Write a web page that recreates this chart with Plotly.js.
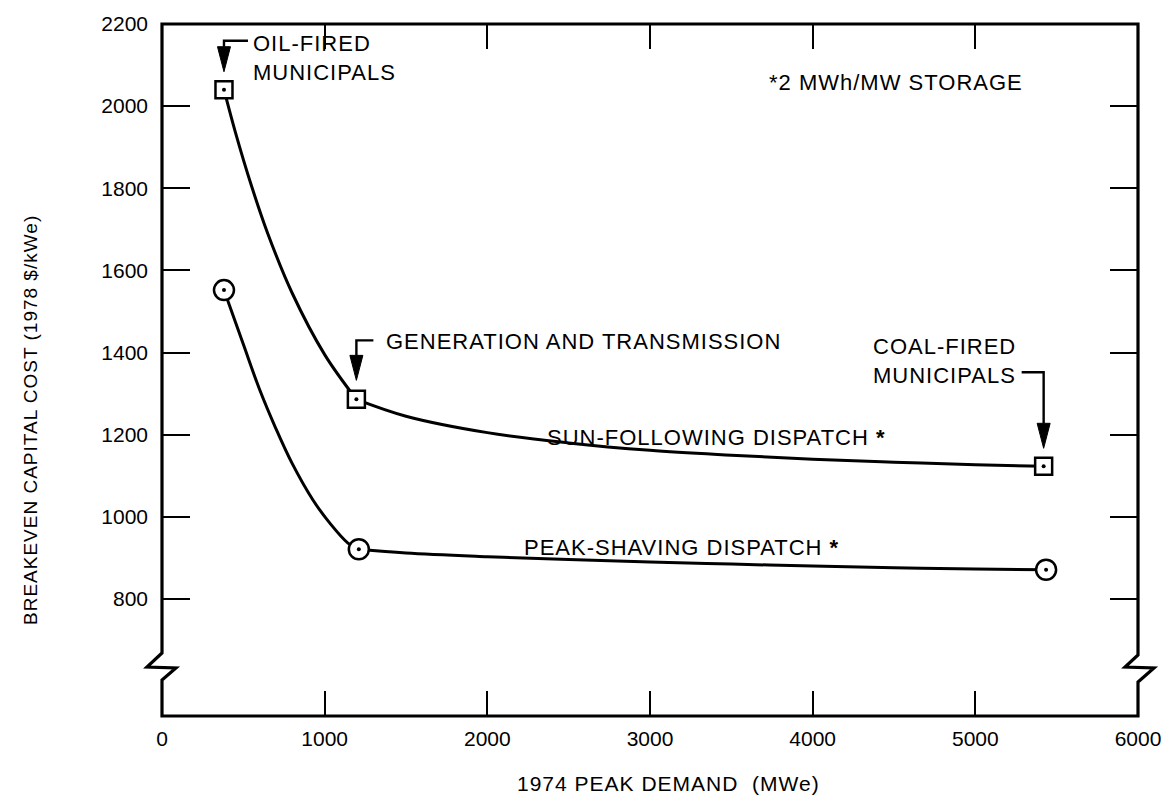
<!DOCTYPE html>
<html><head><meta charset="utf-8">
<script src="https://cdn.plot.ly/plotly-3.0.1.min.js"></script>
<style>
html,body{margin:0;padding:0;background:#fff}
.annotation-text{letter-spacing:1px}
</style>
</head><body><div id="chart" style="width:1170px;height:803px"></div>
<script>
// ---- data ----
const sunX = [381, 1195, 5420];
const sunY = [2040, 1286, 1123];
const peakX = [381, 1210, 5435];
const peakY = [1552, 921, 871];
// curve shapes
const sunCurveLeftX = [381, 450, 550, 650, 800, 1000, 1195];
const sunCurveLeftY = [2040, 1938, 1806, 1690, 1545, 1395, 1286];
const sunCurveRightX = [1195, 1500, 2000, 2500, 3000, 3500, 4000, 4500, 5000, 5420];
const sunCurveRightY = [1286, 1245, 1205, 1180, 1162, 1150, 1140, 1133, 1127, 1123];
const peakCurveLeftX = [381, 500, 600, 700, 800, 928, 1033, 1143, 1210];
const peakCurveLeftY = [1552, 1420, 1310, 1215, 1130, 1041, 984, 936, 921];
const peakCurveRightX = [1210, 1500, 2000, 2500, 3000, 3500, 4000, 4500, 5000, 5435];
const peakCurveRightY = [921, 912, 903, 896, 890, 885, 880, 876, 873, 871];
const xTickVals = [0, 1000, 2000, 3000, 4000, 5000, 6000];
const yTickVals = [800, 1000, 1200, 1400, 1600, 1800, 2000, 2200];
const xRange = [0, 6000];
const yRange = [515, 2200];
const xTitle = '1974 PEAK DEMAND  (MWe)';
const yTitle = 'BREAKEVEN CAPITAL COST (1978 $/kWe)';

// ---- layout geometry ----
const W = 1170, H = 803;
const M = {l: 162, r: 32, t: 24, b: 87, pad: 0};
const pxPerX = (W - M.l - M.r) / (xRange[1] - xRange[0]);
const pxPerY = (H - M.t - M.b) / (yRange[1] - yRange[0]);
const dx = p => p / pxPerX;
const dy = p => p / pxPerY;
const px2x = px => xRange[0] + (px - M.l) / pxPerX;
const py2y = py => yRange[1] - (py - M.t) / pxPerY;
const px2paper = px => (px - M.l) / (W - M.l - M.r);
const py2paper = py => (H - M.b - py) / (H - M.t - M.b);

const FONT = 'Liberation Sans, Arial, sans-serif';
const BLACK = '#000';

function curve(x, y) {
  return {x: x, y: y, mode: 'lines', type: 'scatter', hoverinfo: 'skip',
          line: {color: BLACK, width: 3, shape: 'spline', smoothing: 1}};
}
function centreDots(x, y) {
  return {x: x, y: y, mode: 'markers', type: 'scatter', hoverinfo: 'skip',
          marker: {symbol: 'circle', size: 4, color: BLACK}};
}
const traces = [
  curve(sunCurveLeftX, sunCurveLeftY),
  curve(sunCurveRightX, sunCurveRightY),
  curve(peakCurveLeftX, peakCurveLeftY),
  curve(peakCurveRightX, peakCurveRightY),
  {x: sunX, y: sunY, mode: 'markers', type: 'scatter', name: 'Sun-following',
   marker: {symbol: 'square', size: 17, color: '#fff', line: {color: BLACK, width: 2.5}}},
  {x: peakX, y: peakY, mode: 'markers', type: 'scatter', name: 'Peak-shaving',
   marker: {symbol: 'circle', size: 20, color: '#fff', line: {color: BLACK, width: 2.5}}},
  centreDots(sunX, sunY),
  centreDots(peakX, peakY)
];

// bracket arrows pointing down at a marker
function arrow(x, y, shaftTopPx, hookPx, tipGapPx) {
  const tipY = y + dy(tipGapPx);
  const baseY = tipY + dy(25);
  const topY = y + dy(shaftTopPx);
  const hookX = x + dx(hookPx);
  return [
    {type: 'path', xref: 'x', yref: 'y',
     path: `M ${hookX},${topY} L ${x},${topY} L ${x},${baseY}`,
     line: {color: BLACK, width: 2.4}},
    {type: 'path', xref: 'x', yref: 'y',
     path: `M ${x - dx(6.5)},${baseY} L ${x + dx(6.5)},${baseY} L ${x},${tipY} Z`,
     fillcolor: BLACK, line: {color: BLACK, width: 1}}
  ];
}

const frame = {
  type: 'path', xref: 'paper', yref: 'paper',
  path: 'M 0,1 L 0,0.0910 L -0.0154,0.0708 L 0.0143,0.0694 L 0,0.0520 L 0,0 ' +
        'L 1,0 L 1,0.0491 L 1.0164,0.0694 L 0.9867,0.0708 L 1,0.0882 L 1,1 Z',
  line: {color: BLACK, width: 3.2}, layer: 'above'
};

const shapes = [frame]
  .concat(arrow(sunX[0], sunY[0], 49, 24, 18))
  .concat(arrow(sunX[1], sunY[1], 59, 17, 19))
  .concat(arrow(sunX[2], sunY[2], 94, -22, 18));

function note(text, px, py, anchor) {
  return {text: text, x: px2x(px), y: py2y(py), xref: 'x', yref: 'y',
          xanchor: anchor || 'left', yanchor: 'middle', align: 'left',
          showarrow: false, font: {family: FONT, size: 22, color: BLACK}};
}
const annotations = [
  note('OIL-FIRED<br>MUNICIPALS', 251, 58),
  note('GENERATION AND TRANSMISSION', 384, 341),
  note('COAL-FIRED<br>MUNICIPALS', 1018, 361, 'right'),
  note('*2 MWh/MW STORAGE', 767, 82),
  note('SUN-FOLLOWING DISPATCH <b>*</b>', 545, 437),
  note('PEAK-SHAVING DISPATCH <b>*</b>', 522, 547),
  // axis titles, placed where the reference has them
  {text: xTitle, xref: 'paper', yref: 'paper',
   x: px2paper(822), y: py2paper(783), xanchor: 'right', yanchor: 'middle',
   showarrow: false, font: {family: FONT, size: 21, color: BLACK}},
  {text: yTitle, textangle: -90, xref: 'paper', yref: 'paper',
   x: px2paper(30), y: py2paper(420), xanchor: 'center', yanchor: 'middle',
   showarrow: false, font: {family: FONT, size: 19, color: BLACK}}
];

const layout = {
  width: W, height: H, margin: M,
  paper_bgcolor: '#fff', plot_bgcolor: '#fff',
  showlegend: false,
  font: {family: FONT, size: 21, color: BLACK},
  xaxis: {range: xRange, tickvals: xTickVals, ticks: 'inside', ticklen: 25, tickwidth: 2,
          tickcolor: BLACK, mirror: 'ticks', showline: false, showgrid: false, zeroline: false,
          ticklabelstandoff: 8, tickfont: {family: FONT, size: 21}},
  yaxis: {range: yRange, tickvals: yTickVals, ticks: 'inside', ticklen: 28, tickwidth: 2,
          tickcolor: BLACK, mirror: 'ticks', showline: false, showgrid: false, zeroline: false,
          ticklabelstandoff: 13, tickfont: {family: FONT, size: 21}},
  shapes: shapes,
  annotations: annotations
};

Plotly.newPlot('chart', traces, layout, {staticPlot: true, displayModeBar: false});
</script>
</body></html>
